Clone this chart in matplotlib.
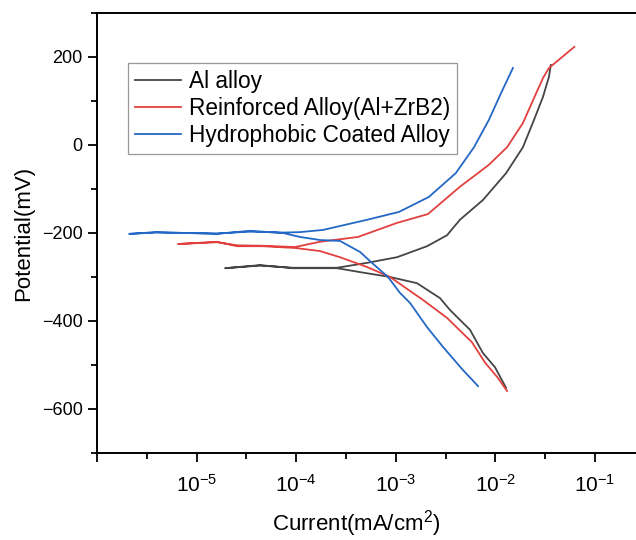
import matplotlib
matplotlib.use("Agg")
import matplotlib.pyplot as plt
from matplotlib.ticker import FixedLocator

plt.rcParams["font.family"] = ["Liberation Sans", "DejaVu Sans"]
plt.rcParams["mathtext.fontset"] = "custom"
plt.rcParams["mathtext.rm"] = "Liberation Sans"
plt.rcParams["mathtext.it"] = "Liberation Sans:italic"
plt.rcParams["mathtext.bf"] = "Liberation Sans:bold"

# Tafel curves: current (mA/cm2) vs potential (mV)
al_current = [1.28e-2, 9.9e-3, 7.5e-3, 5.56e-3, 3.5e-3, 2.78e-3, 1.63e-3, 8.75e-4, 4.4e-4, 2.57e-4,
              1.73e-4, 9.3e-5, 4.34e-5, 1.93e-5, 4.34e-5, 9.3e-5, 1.73e-4, 2.57e-4, 5.1e-4, 1.03e-3,
              2.06e-3, 3.27e-3, 4.4e-3, 7.5e-3, 1.28e-2, 1.89e-2, 2.44e-2, 3.0e-2, 3.45e-2, 3.6e-2]
al_potential = [-552, -505, -473, -420, -375, -348, -314, -300, -289, -280,
                -280, -280, -273, -280, -274, -279, -279, -279, -268, -255,
                -230, -205, -170, -125, -64, -5, 57, 109, 155, 182]

zrb2_current = [1.31e-2, 1.04e-2, 7.9e-3, 5.8e-3, 3.27e-3, 1.87e-3, 8.75e-4, 5.1e-4, 2.75e-4, 1.73e-4,
                9.7e-5, 4.6e-5, 2.55e-5, 1.6e-5, 6.5e-6, 1.6e-5, 2.55e-5, 4.6e-5, 9.7e-5, 1.73e-4,
                4.17e-4, 1.03e-3, 2.1e-3, 4.4e-3, 8.6e-3, 1.31e-2, 1.89e-2, 2.39e-2, 3.0e-2, 3.45e-2, 6.2e-2]
zrb2_potential = [-559, -527, -495, -448, -393, -352, -300, -277, -255, -241,
                  -234, -230, -230, -220, -225, -221, -228, -229, -232, -220,
                  -209, -177, -157, -95, -45, -5, 50, 102, 152, 175, 223]

coat_current = [6.7e-3, 4.7e-3, 2.98e-3, 2.06e-3, 1.39e-3, 1.10e-3, 8.36e-4, 5.77e-4, 4.37e-4, 2.75e-4,
                1.74e-4, 1.09e-4, 7.4e-5, 3.43e-5, 1.6e-5, 3.9e-6, 2.1e-6, 3.9e-6, 1.6e-5, 3.43e-5,
                7.4e-5, 1.09e-4, 1.86e-4, 5.14e-4, 1.08e-3, 2.15e-3, 4.0e-3, 6.1e-3, 8.6e-3, 1.14e-2, 1.5e-2]
coat_potential = [-548, -511, -459, -414, -359, -336, -300, -268, -243, -218,
                  -216, -209, -200, -195, -202, -198, -202, -199, -201, -197,
                  -199, -198, -193, -170, -152, -118, -64, -5, 57, 118, 175]

labels = ["Al alloy", "Reinforced Alloy(Al+ZrB2)", "Hydrophobic Coated Alloy"]
colors = ["#454545", "#e2403f", "#2468c6"]

x_ticks = [1e-6, 1e-5, 1e-4, 1e-3, 1e-2, 1e-1]
x_ticklabels = ["", r"$10^{-5}$", r"$10^{-4}$", r"$10^{-3}$", r"$10^{-2}$", r"$10^{-1}$"]
y_ticks = [-600, -400, -200, 0, 200]

fig = plt.figure(figsize=(6.36, 5.40), dpi=100)
ax = fig.add_axes([97 / 636, 87 / 540, 597.6 / 636, 440 / 540])

ax.plot(al_current, al_potential, color=colors[0], lw=1.3, label=labels[0])
ax.plot(zrb2_current, zrb2_potential, color=colors[1], lw=1.3, label=labels[1])
ax.plot(coat_current, coat_potential, color=colors[2], lw=1.3, label=labels[2])

ax.set_xscale("log")
ax.set_xlim(1e-6, 1e0)
ax.set_ylim(-700, 300)

ax.set_xticks(x_ticks, x_ticklabels)
ax.xaxis.set_minor_locator(FixedLocator([10 ** (k + 0.5) for k in range(-6, 0)]))
ax.set_yticks(y_ticks)
ax.yaxis.set_minor_locator(FixedLocator(list(range(-700, 301, 100))))

for side in ["left", "top", "bottom"]:
    ax.spines[side].set_linewidth(1.4)
ax.spines["right"].set_visible(False)
ax.tick_params(which="major", direction="out", length=6.2, width=1.3, labelsize=13, pad=4)
ax.tick_params(which="minor", direction="out", length=4.2, width=1.3)
ax.tick_params(axis="x", which="major", labelsize=15, pad=9)
ax.tick_params(top=False, right=False, which="both")

ax.set_xlabel("Current(mA/cm$^2$)", fontsize=16)
ax.xaxis.set_label_coords((356 - 97) / 597.6, -0.126)
ax.set_ylabel("Potential(mV)", fontsize=16)
ax.yaxis.set_label_coords(-0.105, 0.5)

leg = ax.legend(loc="upper left", bbox_to_anchor=(128 / 636, 1 - 63 / 540),
                bbox_transform=fig.transFigure, fontsize=16.3, frameon=True, fancybox=False,
                edgecolor="#7f7f7f", borderaxespad=0, borderpad=0.3, labelspacing=0.18,
                handlelength=2.05, handletextpad=0.35)
leg.get_frame().set_linewidth(0.9)

fig.savefig("out.png", dpi=100)
